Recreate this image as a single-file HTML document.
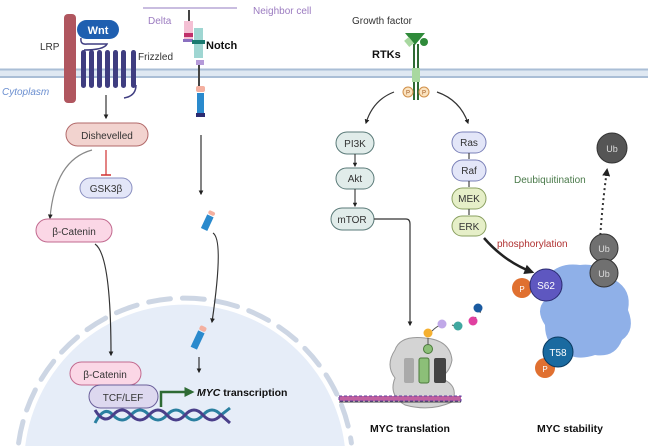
<!DOCTYPE html>
<html><head><meta charset="utf-8"><style>
html,body{margin:0;padding:0;background:#fff;width:648px;height:446px;overflow:hidden;}
svg{display:block;overflow:hidden;font-family:"Liberation Sans",sans-serif;}
</style></head><body>
<svg width="648" height="446" viewBox="0 0 648 446" xmlns="http://www.w3.org/2000/svg">
<defs>
<marker id="ahb" markerWidth="4" markerHeight="4" refX="3" refY="2" orient="auto"><path d="M0,0 L4,2 L0,4 z" fill="#222"/></marker>
<marker id="ahgr" markerWidth="4" markerHeight="4" refX="3" refY="2" orient="auto"><path d="M0,0 L4,2 L0,4 z" fill="#2f6b34"/></marker>
</defs>
<path d="M25.2,446 A161,161 0 0 1 344.8,446 Z" fill="#e6edf8"/>
<path d="M18.6,443 A168,168 0 0 1 351.4,443" fill="none" stroke="#cdd6e4" stroke-width="5" stroke-linecap="round" stroke-dasharray="22 12"/>
<rect x="0" y="69" width="648" height="9" fill="#dfe8f2"/>
<line x1="0" y1="69.5" x2="648" y2="69.5" stroke="#aabed6" stroke-width="2"/>
<line x1="0" y1="77" x2="648" y2="77" stroke="#aabed6" stroke-width="2"/>
<line x1="143" y1="8" x2="237" y2="8" stroke="#c9bde0" stroke-width="2"/>
<text x="253" y="14" font-size="10" fill="#9b7bc0">Neighbor cell</text>
<text x="148" y="24" font-size="10" fill="#9b7bc0">Delta</text>
<text x="2" y="95" font-size="10" font-style="italic" fill="#6b8fd0">Cytoplasm</text>
<rect x="64" y="14" width="12" height="89" rx="4" fill="#b0565f"/>
<text x="40" y="50" font-size="10" fill="#333">LRP</text>
<rect x="77" y="20" width="42" height="19" rx="9.5" fill="#1f5fb0"/>
<text x="98" y="34" font-size="11" font-weight="bold" fill="#fff" text-anchor="middle">Wnt</text>
<g fill="none" stroke="#3f3d80" stroke-width="1.5">
<path d="M81,38 Q80,45 87,44 L107,44 Q104,50 84,50"/>
<path d="M136,85 Q136,96 124,98"/>
</g>
<g fill="#3f3d80">
<rect x="81" y="50" width="5" height="38" rx="2.5"/><rect x="89" y="50" width="5" height="38" rx="2.5"/>
<rect x="97" y="50" width="5" height="38" rx="2.5"/><rect x="105" y="50" width="5" height="38" rx="2.5"/>
<rect x="113" y="50" width="5" height="38" rx="2.5"/><rect x="121" y="50" width="5" height="38" rx="2.5"/>
<rect x="131" y="50" width="5" height="38" rx="2.5"/>
</g>
<text x="138" y="60" font-size="10" fill="#333">Frizzled</text>
<line x1="106" y1="95" x2="106" y2="118" stroke="#333" stroke-width="1.2" marker-end="url(#ahb)"/>
<rect x="66" y="123" width="82" height="23" rx="11.5" fill="#f2d3cf" stroke="#b26a6a"/>
<text x="107" y="139" font-size="10" fill="#333" text-anchor="middle">Dishevelled</text>
<line x1="106" y1="150" x2="106" y2="175" stroke="#d03030" stroke-width="1.2"/>
<line x1="101" y1="175" x2="111" y2="175" stroke="#d03030" stroke-width="1.5"/>
<rect x="80" y="178" width="52" height="20" rx="10" fill="#e3e6f8" stroke="#8a8fc0"/>
<text x="106" y="192" font-size="10" fill="#333" text-anchor="middle">GSK3β</text>
<path d="M92,150 Q55,160 50,218" fill="none" stroke="#888" stroke-width="1.2" marker-end="url(#ahb)"/>
<rect x="36" y="219" width="76" height="23" rx="11.5" fill="#fbd7e6" stroke="#c26a8f"/>
<text x="74" y="235" font-size="10" fill="#333" text-anchor="middle">β-Catenin</text>
<path d="M95,244 Q111,255 111,355" fill="none" stroke="#333" stroke-width="1.2" marker-end="url(#ahb)"/>
<rect x="70" y="362" width="71" height="23" rx="11.5" fill="#fbd7e6" stroke="#c26a8f"/>
<text x="105" y="378" font-size="10" fill="#333" text-anchor="middle">β-Catenin</text>
<rect x="89" y="385" width="69" height="23" rx="11.5" fill="#ddd8ef" stroke="#6a5f9a"/>
<text x="123" y="401" font-size="10" fill="#333" text-anchor="middle">TCF/LEF</text>
<path d="M161,407 L161,392 L192,392" fill="none" stroke="#2f6b34" stroke-width="2.5" marker-end="url(#ahgr)"/>
<text x="197" y="396" font-size="10.5" font-weight="bold" fill="#111"><tspan font-style="italic">MYC</tspan>  transcription</text>
<path d="M95,423 Q104,405 113,415 T131,415 T149,415 T167,415 T185,415 T203,415 T221,415 L230,408" fill="none" stroke="#2a7fa0" stroke-width="3"/>
<path d="M95,410 Q104,425 113,415 T131,415 T149,415 T167,415 T185,415 T203,415 T221,415 L230,423" fill="none" stroke="#4a3f8a" stroke-width="3"/>
<line x1="189" y1="10" x2="189" y2="22" stroke="#444" stroke-width="2"/>
<rect x="184" y="21" width="9" height="21" fill="#f4c0d4"/>
<rect x="184" y="33" width="9" height="4" fill="#c0306a"/>
<rect x="183" y="39" width="10" height="3" fill="#8a70c0"/>
<rect x="194" y="28" width="9" height="30" fill="#9fd6d2"/>
<rect x="192" y="40" width="13" height="4" fill="#1a7a70"/>
<rect x="196" y="60" width="8" height="5" fill="#b59ad8"/>
<line x1="199" y1="65" x2="199" y2="86" stroke="#444" stroke-width="2"/>
<text x="206" y="49" font-size="11" font-weight="bold" fill="#111">Notch</text>
<rect x="196" y="86" width="9" height="6" rx="2" fill="#f4b0a0"/>
<rect x="197" y="93" width="7" height="22" fill="#2a8acd"/>
<rect x="196" y="113" width="9" height="4" fill="#2a2a70"/>
<line x1="201" y1="135" x2="201" y2="194" stroke="#333" stroke-width="1.2" marker-end="url(#ahb)"/>
<g transform="rotate(25 207 222)"><rect x="204" y="210" width="7" height="4" rx="2" fill="#f4b0a0"/><rect x="204" y="215" width="7" height="15" fill="#2a8acd"/></g>
<path d="M213,233 Q224,240 212,322" fill="none" stroke="#333" stroke-width="1.2" marker-end="url(#ahb)"/>
<g transform="rotate(25 198 338)"><rect x="195" y="325" width="7" height="5" rx="2" fill="#f4b0a0"/><rect x="195" y="331" width="7" height="18" fill="#2a8acd"/></g>
<line x1="199" y1="357" x2="199" y2="372" stroke="#333" stroke-width="1.2" marker-end="url(#ahb)"/>
<text x="382" y="24" font-size="10" fill="#333" text-anchor="middle">Growth factor</text>
<text x="372" y="58" font-size="11" font-weight="bold" fill="#111">RTKs</text>
<path d="M405,33 L425,33 L415,45 z" fill="#2f8a3a"/>
<circle cx="424" cy="42" r="4" fill="#2f8a3a"/>
<rect x="406" y="38" width="6" height="8" fill="#a8d8a0" transform="rotate(-40 409 42)"/>
<line x1="414" y1="44" x2="414" y2="100" stroke="#2f6b34" stroke-width="2"/>
<line x1="418" y1="44" x2="418" y2="100" stroke="#2f6b34" stroke-width="2"/>
<rect x="412" y="68" width="8" height="14" fill="#a8d8a0"/>
<circle cx="408" cy="92" r="5" fill="#fbe3c0" stroke="#d0904a"/><text x="408" y="94.5" font-size="6" text-anchor="middle" fill="#a05a20">P</text>
<circle cx="424" cy="92" r="5" fill="#fbe3c0" stroke="#d0904a"/><text x="424" y="94.5" font-size="6" text-anchor="middle" fill="#a05a20">P</text>
<path d="M394,92 Q373,100 366,123" fill="none" stroke="#333" stroke-width="1.2" marker-end="url(#ahb)"/>
<path d="M437,92 Q460,100 468,123" fill="none" stroke="#333" stroke-width="1.2" marker-end="url(#ahb)"/>
<g font-size="10" fill="#333" text-anchor="middle">
<rect x="336" y="132" width="38" height="22" rx="11" fill="#e1ecea" stroke="#5a7a78"/><text x="355" y="147">PI3K</text>
<rect x="336" y="168" width="38" height="21" rx="10.5" fill="#e1ecea" stroke="#5a7a78"/><text x="355" y="182">Akt</text>
<rect x="331" y="208" width="43" height="22" rx="11" fill="#e1ecea" stroke="#5a7a78"/><text x="352" y="223">mTOR</text>
<rect x="452" y="132" width="34" height="21" rx="10.5" fill="#e3e6f8" stroke="#7a80b8"/><text x="469" y="146">Ras</text>
<rect x="452" y="160" width="34" height="21" rx="10.5" fill="#e3e6f8" stroke="#7a80b8"/><text x="469" y="174">Raf</text>
<rect x="452" y="188" width="34" height="21" rx="10.5" fill="#e6efc8" stroke="#8aa060"/><text x="469" y="202">MEK</text>
<rect x="452" y="216" width="34" height="20" rx="10" fill="#e6efc8" stroke="#8aa060"/><text x="469" y="230">ERK</text>
</g>
<g stroke="#333" stroke-width="1.1">
<line x1="355" y1="154" x2="355" y2="166" marker-end="url(#ahb)"/>
<line x1="355" y1="189" x2="355" y2="206" marker-end="url(#ahb)"/>
<line x1="469" y1="153" x2="469" y2="159"/><line x1="469" y1="181" x2="469" y2="187"/><line x1="469" y1="209" x2="469" y2="215"/>
</g>
<path d="M374,219 L406,219 Q410,219 410,224 L410,325" fill="none" stroke="#333" stroke-width="1.2" marker-end="url(#ahb)"/>
<path d="M395,350 Q400,335 425,338 Q450,340 452,360 Q450,372 440,378 Q460,385 452,402 Q430,412 405,405 Q388,395 395,378 Q385,365 395,350 z" fill="#d4d4d4" stroke="#999"/>
<rect x="404" y="358" width="10" height="25" rx="2" fill="#aaa"/>
<rect x="419" y="358" width="10" height="25" rx="2" fill="#8cbf78" stroke="#4a7a3a"/>
<rect x="434" y="358" width="12" height="25" rx="2" fill="#444"/>
<rect x="339" y="396" width="122" height="5" fill="#c060a0"/>
<rect x="339" y="396" width="122" height="5" fill="none" stroke="#6040a0" stroke-dasharray="3 2"/>
<line x1="339" y1="402" x2="461" y2="402" stroke="#444"/>
<circle cx="428" cy="349" r="4.5" fill="#8cbf78" stroke="#4a7a3a"/>
<circle cx="428" cy="333" r="4.5" fill="#f5b030"/>
<path d="M428,338 L428,345 M432,331 Q438,325 442,325 M452,325 Q458,328 462,325 M470,323 Q474,321 476,317 M480,313 L481,310" stroke="#555" fill="none"/>
<circle cx="442" cy="324" r="4.5" fill="#c0a8e8"/>
<circle cx="458" cy="326" r="4.5" fill="#40a8a0"/>
<circle cx="473" cy="321" r="4.5" fill="#e040a0"/>
<circle cx="478" cy="308" r="4.5" fill="#1a5aa0"/>
<text x="410" y="432" font-size="10.5" font-weight="bold" fill="#111" text-anchor="middle">MYC  translation</text>
<circle cx="612" cy="148" r="15" fill="#555" stroke="#333"/>
<text x="612" y="152" font-size="9" fill="#ddd" text-anchor="middle">Ub</text>
<text x="514" y="183" font-size="10" fill="#4a7a4a">Deubiquitination</text>
<path d="M598,280 Q600,220 607,170" fill="none" stroke="#333" stroke-width="2" stroke-dasharray="2 3" marker-end="url(#ahb)"/>
<text x="497" y="247" font-size="10" fill="#b03030">phosphorylation</text>
<path d="M484,238 Q505,262 532,272" fill="none" stroke="#222" stroke-width="2.5" marker-end="url(#ahb)"/>
<path d="M548,275 Q560,262 580,265 Q600,262 615,280 Q632,290 628,310 Q636,330 622,340 Q615,358 595,355 Q575,362 560,350 Q545,345 545,325 Q535,310 545,300 Q538,285 548,275 z" fill="#8fb0e8"/>
<circle cx="604" cy="248" r="14" fill="#707070" stroke="#333"/><text x="604" y="252" font-size="9" fill="#ddd" text-anchor="middle">Ub</text>
<circle cx="604" cy="273" r="14" fill="#707070" stroke="#333"/><text x="604" y="277" font-size="9" fill="#ddd" text-anchor="middle">Ub</text>
<circle cx="522" cy="288" r="10" fill="#e07030"/><text x="522" y="292" font-size="8" fill="#fff" text-anchor="middle">P</text>
<circle cx="546" cy="285" r="16" fill="#5e57c0" stroke="#2a2a70"/><text x="546" y="289" font-size="10" fill="#fff" text-anchor="middle">S62</text>
<circle cx="545" cy="368" r="10" fill="#e07030"/><text x="545" y="372" font-size="8" fill="#fff" text-anchor="middle">P</text>
<circle cx="558" cy="352" r="15" fill="#1a6aa0" stroke="#0a3a60"/><text x="558" y="356" font-size="10" fill="#fff" text-anchor="middle">T58</text>
<text x="570" y="432" font-size="10.5" font-weight="bold" fill="#111" text-anchor="middle">MYC  stability</text>
</svg>
</body></html>
